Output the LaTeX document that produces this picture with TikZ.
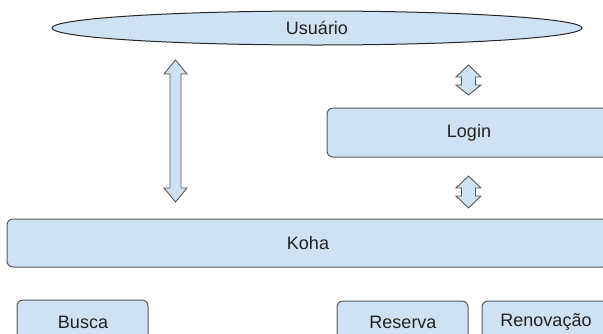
\documentclass[tikz,border=0pt]{standalone}
\usepackage{fontspec}
\setmainfont{Liberation Sans}
\definecolor{boxfill}{HTML}{CFE2F3}
\definecolor{boxline}{HTML}{595959}
\definecolor{ink}{HTML}{222222}
\begin{document}
\begin{tikzpicture}[x=1pt,y=-1pt,
  every node/.style={font=\fontsize{18}{21}\selectfont, text=ink},
  block/.style={draw=boxline, fill=boxfill, line width=1pt, rounded corners=6pt},
  oval/.style={draw=black!85, fill=boxfill, line width=1pt},
  blockarrow/.style={draw=boxline, fill=boxfill, line width=0.9pt, line join=miter}]
\clip (0,0) rectangle (603,333);

% user ellipse
\draw[oval] (317,28) ellipse [x radius=265pt, y radius=17pt];
\node (usuario) at (317,28) {Usuário};

% boxes
\draw[block] (327,108) rectangle (611,157);
\node (login) at (469,133) {Login};
\draw[block] (7,219) rectangle (609,267);
\node (koha) at (308,243) {Koha};
\draw[block] (17,300) rectangle (148,345);
\node (busca) at (83,322) {Busca};
\draw[block] (337,301) rectangle (468,345);
\node (reserva) at (403,322) {Reserva};
\draw[block] (482,301) rectangle (614,345);
\node (renovacao) at (546,322) {Renovação};

% double-headed block arrow between the user and Koha
\draw[blockarrow] (175.5,60) -- (187,74) -- (181,74) -- (181,188) -- (187,188)
  -- (175.5,202) -- (164,188) -- (170,188) -- (170,74) -- (164,74) -- cycle;

% short block arrows: user <-> login, login <-> Koha
\draw[blockarrow] (468.5,65) -- (481,77) -- (475.5,77) -- (475.5,85) -- (481,85)
  -- (468.5,95) -- (456,85) -- (461.5,85) -- (461.5,77) -- (456,77) -- cycle;
\draw[blockarrow] (468.5,176) -- (481,188) -- (475.5,188) -- (475.5,196) -- (481,196)
  -- (468.5,208) -- (456,196) -- (461.5,196) -- (461.5,188) -- (456,188) -- cycle;
\end{tikzpicture}
\end{document}
